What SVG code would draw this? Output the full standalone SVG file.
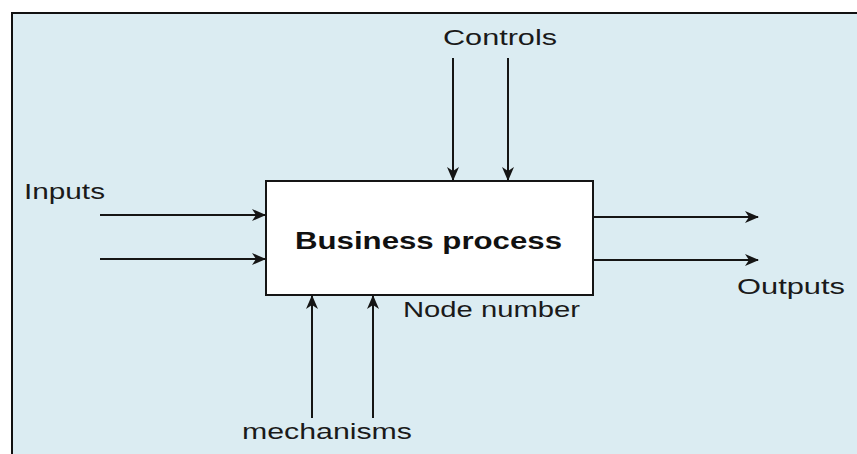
<svg xmlns="http://www.w3.org/2000/svg" width="857" height="454" viewBox="0 0 857 454">
<defs>
<marker id="ah" viewBox="0 0 14 12" refX="13" refY="6" markerWidth="14" markerHeight="12" markerUnits="userSpaceOnUse" orient="auto">
<path d="M0,0 L14,6 L0,12 L4,6 z" fill="#151515"/>
</marker>
<style>
.t{font-family:"Liberation Sans",Arial,sans-serif;font-size:22px;fill:#1a1a1a}
.b{font-family:"Liberation Sans",Arial,sans-serif;font-size:23px;font-weight:bold;fill:#111}
.c{stroke:#151515;stroke-width:2;fill:none;marker-end:url(#ah)}
</style>
</defs>
<rect x="0" y="0" width="857" height="454" fill="#ffffff"/>
<g id="frame">
<rect x="12" y="13" width="860" height="460" fill="#dbecf2" stroke="#111" stroke-width="2"/>
</g>
<g id="process">
<rect x="266" y="181" width="327" height="114" fill="#ffffff" stroke="#151515" stroke-width="2"/>
<text class="b" x="295" y="249" textLength="267" lengthAdjust="spacingAndGlyphs">Business process</text>
<text class="t" x="403" y="317" textLength="177" lengthAdjust="spacingAndGlyphs">Node number</text>
</g>
<g id="controls">
<text class="t" x="443" y="45" textLength="114" lengthAdjust="spacingAndGlyphs">Controls</text>
</g>
<g id="inputs">
<text class="t" x="24" y="199" textLength="81" lengthAdjust="spacingAndGlyphs">Inputs</text>
</g>
<g id="outputs">
<text class="t" x="737" y="294" textLength="108" lengthAdjust="spacingAndGlyphs">Outputs</text>
</g>
<g id="mechanisms">
<text class="t" x="242" y="439" textLength="170" lengthAdjust="spacingAndGlyphs">mechanisms</text>
</g>
<g id="connectors">
<line class="c" x1="453" y1="58" x2="453" y2="180"/>
<line class="c" x1="508" y1="58" x2="508" y2="180"/>
<line class="c" x1="100" y1="215" x2="265" y2="215"/>
<line class="c" x1="100" y1="259" x2="265" y2="259"/>
<line class="c" x1="594" y1="217" x2="758" y2="217"/>
<line class="c" x1="594" y1="260" x2="758" y2="260"/>
<line class="c" x1="312" y1="418" x2="312" y2="296"/>
<line class="c" x1="373" y1="418" x2="373" y2="296"/>
</g>
</svg>
